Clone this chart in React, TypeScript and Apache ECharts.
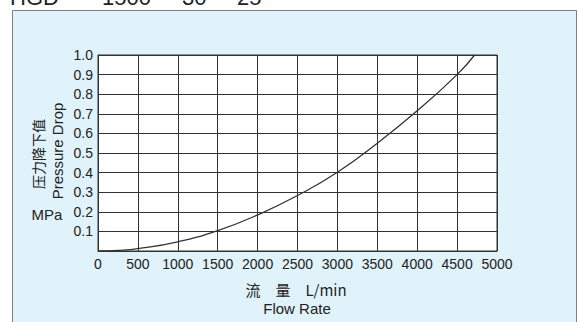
import React, { useEffect, useRef } from "react";
import * as echarts from "echarts";

const flowRate = [0, 250, 500, 1000, 1500, 2000, 2500, 3000, 3500, 4000, 4500, 4720];
const pressureDrop = [0, 0.003, 0.012, 0.047, 0.104, 0.184, 0.283, 0.402, 0.55, 0.715, 0.9, 1.0];
const yTickLabels = ["", "0.1", "0.2", "0.3", "0.4", "0.5", "0.6", "0.7", "0.8", "0.9", "1.0"];
const titleParts = ["HGD", "-", "1500", "-", "30", "-", "25"];

const FONT = "'Liberation Sans', Arial, sans-serif";
const CJK = "'Noto Sans CJK SC', 'Liberation Sans', sans-serif";

export default function App() {
  const ref = useRef<HTMLDivElement>(null);
  useEffect(() => {
    if (!ref.current) return;
    const chart = echarts.init(ref.current, null, { renderer: "svg" });
    const titleX = [10, 80, 102, 166, 182, 225, 237];
    chart.setOption({
      animation: false,
      backgroundColor: "#ffffff",
      grid: {
        left: 98,
        top: 55,
        right: 82,
        bottom: 71,
        show: true,
        backgroundColor: "#ffffff",
        borderColor: "#333",
        borderWidth: 1,
      },
      xAxis: {
        type: "value",
        min: 0,
        max: 5000,
        interval: 500,
        axisLine: { show: true, lineStyle: { color: "#333", width: 1 } },
        axisTick: { show: false },
        splitLine: { show: true, lineStyle: { color: "#333", width: 1 } },
        axisLabel: {
          color: "#222",
          fontSize: 14,
          fontFamily: FONT,
          margin: 6,
          formatter: (v: number) => String(v),
        },
      },
      yAxis: {
        type: "value",
        min: 0,
        max: 1,
        interval: 0.1,
        axisLine: { show: true, lineStyle: { color: "#333", width: 1 } },
        axisTick: { show: false },
        splitLine: { show: true, lineStyle: { color: "#333", width: 1 } },
        axisLabel: {
          color: "#222",
          fontSize: 14,
          fontFamily: FONT,
          margin: 5,
          formatter: (v: number) => yTickLabels[Math.round(v * 10)] ?? "",
        },
      },
      series: [
        {
          type: "line",
          data: flowRate.map((x, i) => [x, pressureDrop[i]]),
          smooth: true,
          showSymbol: false,
          lineStyle: { color: "#333", width: 1.3 },
          z: 5,
        },
      ],
      graphic: [
        {
          type: "rect",
          z: -10,
          shape: { x: 12.5, y: 10.5, width: 564, height: 330 },
          style: { fill: "#E0F2FA", stroke: "#7f7f7f", lineWidth: 1 },
          silent: true,
        },
        ...titleParts.map((t, i) => ({
          type: "text",
          x: titleX[i],
          y: -2.5,
          style: {
            text: t,
            fontSize: 22,
            fontFamily: FONT,
            fill: "#222",
            align: "left",
            verticalAlign: "middle",
          },
        })),
        {
          type: "text",
          x: 38,
          y: 154,
          rotation: Math.PI / 2,
          style: {
            text: "压力降下值",
            fontSize: 14,
            fontFamily: CJK,
            fill: "#222",
            align: "center",
            verticalAlign: "middle",
          },
        },
        {
          type: "text",
          x: 57,
          y: 151,
          rotation: Math.PI / 2,
          style: {
            text: "Pressure Drop",
            fontSize: 15,
            fontFamily: FONT,
            fill: "#222",
            align: "center",
            verticalAlign: "middle",
          },
        },
        {
          type: "text",
          x: 47,
          y: 214,
          style: {
            text: "MPa",
            fontSize: 15,
            fontFamily: FONT,
            fill: "#222",
            align: "center",
            verticalAlign: "middle",
          },
        },
        {
          type: "text",
          x: 296,
          y: 289,
          style: {
            text: "流　量　L/min",
            fontSize: 15,
            fontFamily: CJK,
            fill: "#222",
            align: "center",
            verticalAlign: "middle",
          },
        },
        {
          type: "text",
          x: 297,
          y: 308,
          style: {
            text: "Flow Rate",
            fontSize: 15,
            fontFamily: FONT,
            fill: "#222",
            align: "center",
            verticalAlign: "middle",
          },
        },
      ],
    });
    return () => chart.dispose();
  }, []);
  return (
    <div
      ref={ref}
      style={{ position: "fixed", left: 0, top: 0, width: 579, height: 322 }}
    />
  );
}
